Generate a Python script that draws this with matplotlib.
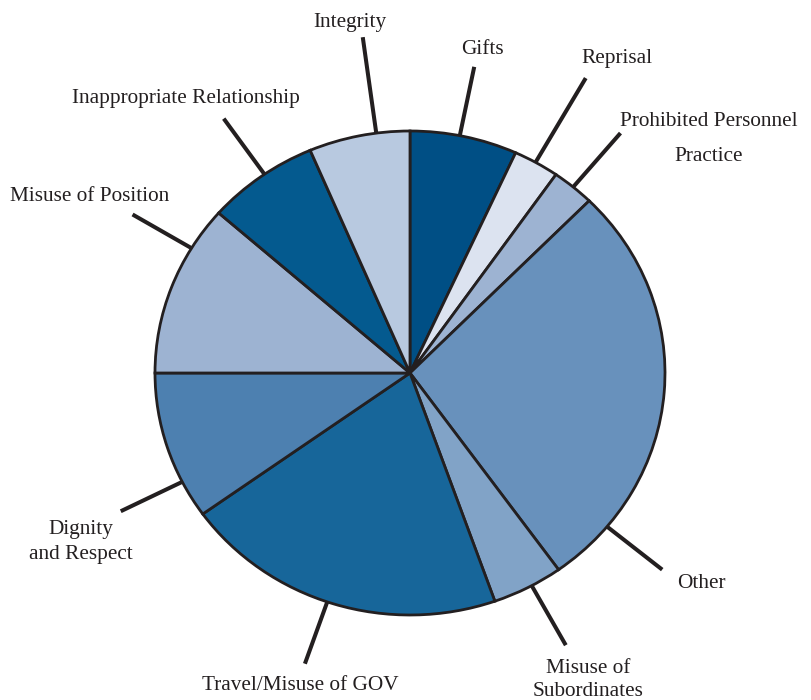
import numpy as np
import matplotlib
matplotlib.use("Agg")
import matplotlib.pyplot as plt

# categories clockwise from 12 o'clock, share in percent
labels = ["Gifts", "Reprisal", "Prohibited Personnel\nPractice", "Other",
          "Misuse of\nSubordinates", "Travel/Misuse of GOV", "Dignity\nand Respect",
          "Misuse of Position", "Inappropriate Relationship", "Integrity"]
shares = [6.8, 2.9, 2.7, 27.7, 4.5, 20.5, 9.9, 11.5, 7.1, 6.4]
colors = ["#004f85", "#dce3f0", "#9db3d2", "#6891bc", "#81a3c7",
          "#17669a", "#4d80b0", "#9db3d2", "#045a8f", "#b8c9e0"]

# leader lines: where along each wedge (0 = start, 1 = end, clockwise) and how far out
anchor = [0.46, 0.48, 0.5, 0.85, 0.44, 0.52, 0.25, 0.75, 0.54, 0.67]
line_end = [1.29, 1.40, 1.29, 1.28, 1.28, 1.27, 1.27, 1.27, 1.28, 1.40]
# label centres in pixels (x, y from top) and line spacing
label_xy = [(482, 50), (617, 59), (709, 139), (701, 584), (588, 680),
            (300, 686), (81, 542), (90, 197), (186, 99), (350, 22)]
spacing = [1.2, 1.2, 2.2, 1.2, 1.34, 1.2, 1.39, 1.2, 1.2, 1.2]

ink = "#231f20"
W, H = 812, 700
cx, cy = 410, 373      # pie centre, pixels from top-left
rx, ry = 255, 242      # the pie is drawn slightly squashed

fig = plt.figure(figsize=(W / 100, H / 100), dpi=100)
ax = fig.add_axes([0, 0, 1, 1])

wedges, _ = ax.pie(shares, colors=colors, startangle=90, counterclock=False,
                   radius=1, frame=True,
                   wedgeprops=dict(edgecolor=ink, linewidth=2.0))
ax.set_aspect("auto")
ax.set_xlim(-cx / rx, (W - cx) / rx)
ax.set_ylim(-(H - cy) / ry, cy / ry)
ax.axis("off")

for w, f, e in zip(wedges, anchor, line_end):
    ang = np.deg2rad(w.theta2 - f * (w.theta2 - w.theta1))
    ax.plot([np.cos(ang), e * np.cos(ang)], [np.sin(ang), e * np.sin(ang)],
            color=ink, lw=2.9, solid_capstyle="butt")

for (lx, ly), lab, ls in zip(label_xy, labels, spacing):
    fig.text(lx / W, 1 - ly / H, lab, ha="center", va="center", fontsize=15.3,
             family="Liberation Serif", color=ink, linespacing=ls,
             multialignment="center")

fig.savefig("out.png", dpi=100)
